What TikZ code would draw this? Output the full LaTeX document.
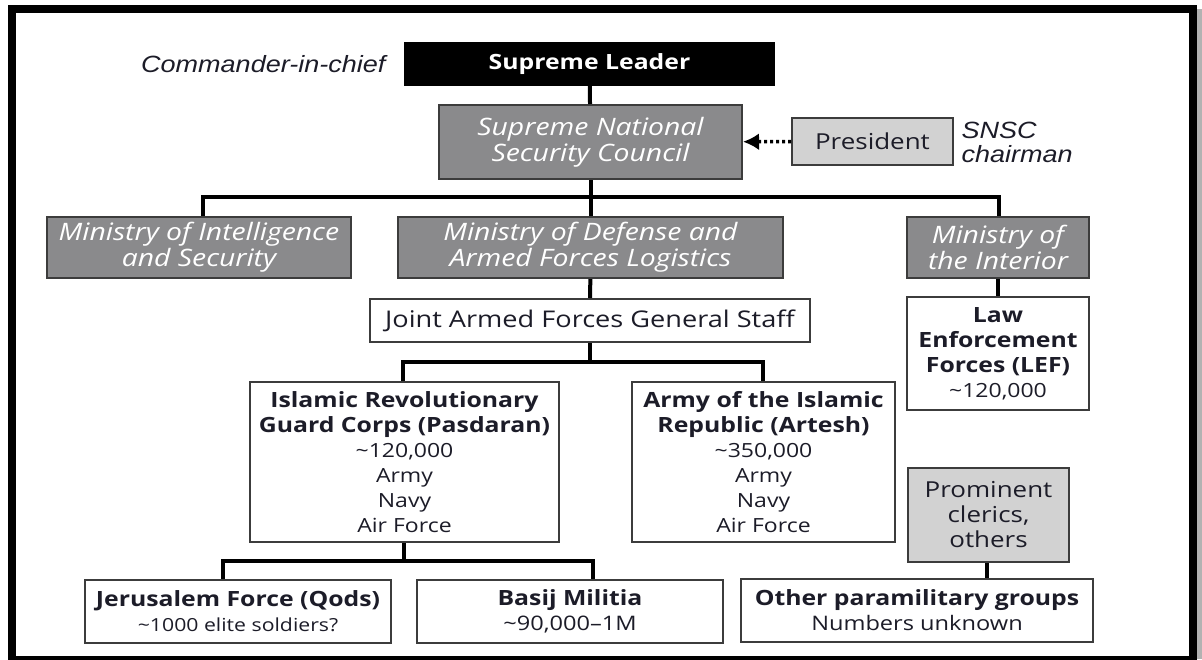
\documentclass[tikz,border=0pt]{standalone}
\usepackage{fontspec}
\setmainfont{Open Sans}[FakeStretch=1.18]
\newfontfamily\notefont{Liberation Sans}[FakeStretch=1.15]
\usetikzlibrary{arrows.meta,positioning}

\definecolor{boxgray}{RGB}{138,138,140}
\definecolor{lightgray}{RGB}{210,210,210}
\definecolor{edgegray}{RGB}{60,60,60}
\definecolor{inkblue}{RGB}{28,28,40}

\newcommand{\fs}[1]{\fontsize{#1}{25}\selectfont}
\newcommand{\hd}{\fs{21}\bfseries}

\tikzset{
  box/.style={draw=edgegray, line width=2pt, inner sep=2pt, align=center,
    font=\fs{19.5}, text=inkblue},
  darkbox/.style={box, fill=black, draw=black, text=white, font=\fs{21}\bfseries},
  graybox/.style={box, fill=boxgray, text=white, font=\fontsize{24}{26}\selectfont\itshape},
  lightbox/.style={box, fill=lightgray, font=\fs{22}},
  whitebox/.style={box, fill=white},
  link/.style={line width=4pt, black},
  note/.style={font=\fontsize{23.5}{24}\selectfont\notefont\itshape, text=inkblue}
}

\begin{document}
\begin{tikzpicture}[x=1pt,y=-1pt]
  \useasboundingbox (0,0) rectangle (1202,659);
  \fill[white] (0,0) rectangle (1202,659);
% frame
  \fill[gray!60] (1197,9) rectangle (1202,659);
  \draw[line width=8pt] (12,9) rectangle (1193,660);

% top of the chart
  \node[darkbox, minimum width=369pt, minimum height=42pt] (leader) at (589.5,64) {Supreme Leader};
  \node[note, anchor=east] (cinc) at (389,64) {Commander-in-chief};
  \node[graybox, minimum width=303pt, minimum height=74pt] (snsc) at (590.5,142)
    {Supreme National\\Security Council};
  \node[lightbox, minimum width=161pt, minimum height=47pt] (pres) at (872.5,141.5) {President};
  \node[note, anchor=west, align=left] (chair) at (958,142) {SNSC\\chairman};

% ministries
  \node[graybox, minimum width=304pt, minimum height=61pt] (mis) at (199,247.5)
    {Ministry of Intelligence\\and Security};
  \node[graybox, minimum width=385pt, minimum height=61pt] (mod) at (590.5,247.5)
    {Ministry of Defense and\\Armed Forces Logistics};
  \node[graybox, minimum width=182pt, minimum height=61pt] (moi) at (998,247.5)
    {Ministry of\\the Interior};

  \node[whitebox, font=\fs{23}, minimum width=440pt, minimum height=43pt] (jafgs) at (590,320.5)
    {Joint Armed Forces General Staff};
  \node[whitebox, minimum width=182pt, minimum height=113pt] (lef) at (998,353.5)
    {\hd Law\\\hd Enforcement\\\hd Forces (LEF)\\{\char`~}120,000};

% armed forces
  \node[whitebox, minimum width=309pt, minimum height=160pt] (irgc) at (404.5,462)
    {\hd Islamic Revolutionary\\\hd Guard Corps (Pasdaran)\\{\char`~}120,000\\Army\\Navy\\Air Force};
  \node[whitebox, minimum width=263pt, minimum height=160pt] (artesh) at (763.5,462)
    {\hd Army of the Islamic\\\hd Republic (Artesh)\\{\char`~}350,000\\Army\\Navy\\Air Force};
  \node[lightbox, minimum width=161pt, minimum height=94pt] (clerics) at (988.5,515)
    {Prominent\\clerics,\\others};

% bottom row
  \node[whitebox, font=\fs{18}, minimum width=306pt, minimum height=63pt] (qods) at (238,611.5)
    {\hd Jerusalem Force (Qods)\\{\char`~}1000 elite soldiers?};
  \node[whitebox, font=\fs{20}, minimum width=306pt, minimum height=63pt] (basij) at (570,611.5)
    {\hd Basij Militia\\{\char`~}90,000--1M};
  \node[whitebox, font=\fs{20}, minimum width=352pt, minimum height=63pt] (other) at (917,610.5)
    {\hd Other paramilitary groups\\Numbers unknown};

% connectors
  \coordinate (bus1) at (590,197);
  \coordinate (bus2) at (590,362);
  \coordinate (bus3) at (404,561);
  \draw[link] (leader) -- (snsc);
  \draw[link] (snsc) -- (mod);
  \draw[link] ([xshift=4pt]mis.north) |- (bus1) -| ([xshift=1pt]moi.north);
  \draw[link, -{Latex[length=16pt,width=17pt]}, line width=3.5pt, dash pattern=on 3pt off 3pt]
    (pres) -- (snsc);
  \draw[link] (mod) -- (jafgs);
  \draw[link] (moi) -- (lef);
  \draw[link] (jafgs) -- (bus2);
  \draw[link] ([xshift=-1.5pt]irgc.north) |- (bus2) -| ([xshift=-0.5pt]artesh.north);
  \draw[link] ([xshift=-0.5pt]irgc.south) -- (bus3);
  \draw[link] ([xshift=-15pt]qods.north) |- (bus3) -| ([xshift=23pt]basij.north);
  \draw[link] ([xshift=-1.5pt]clerics.south) -- ([xshift=70pt]other.north);
\end{tikzpicture}
\end{document}
